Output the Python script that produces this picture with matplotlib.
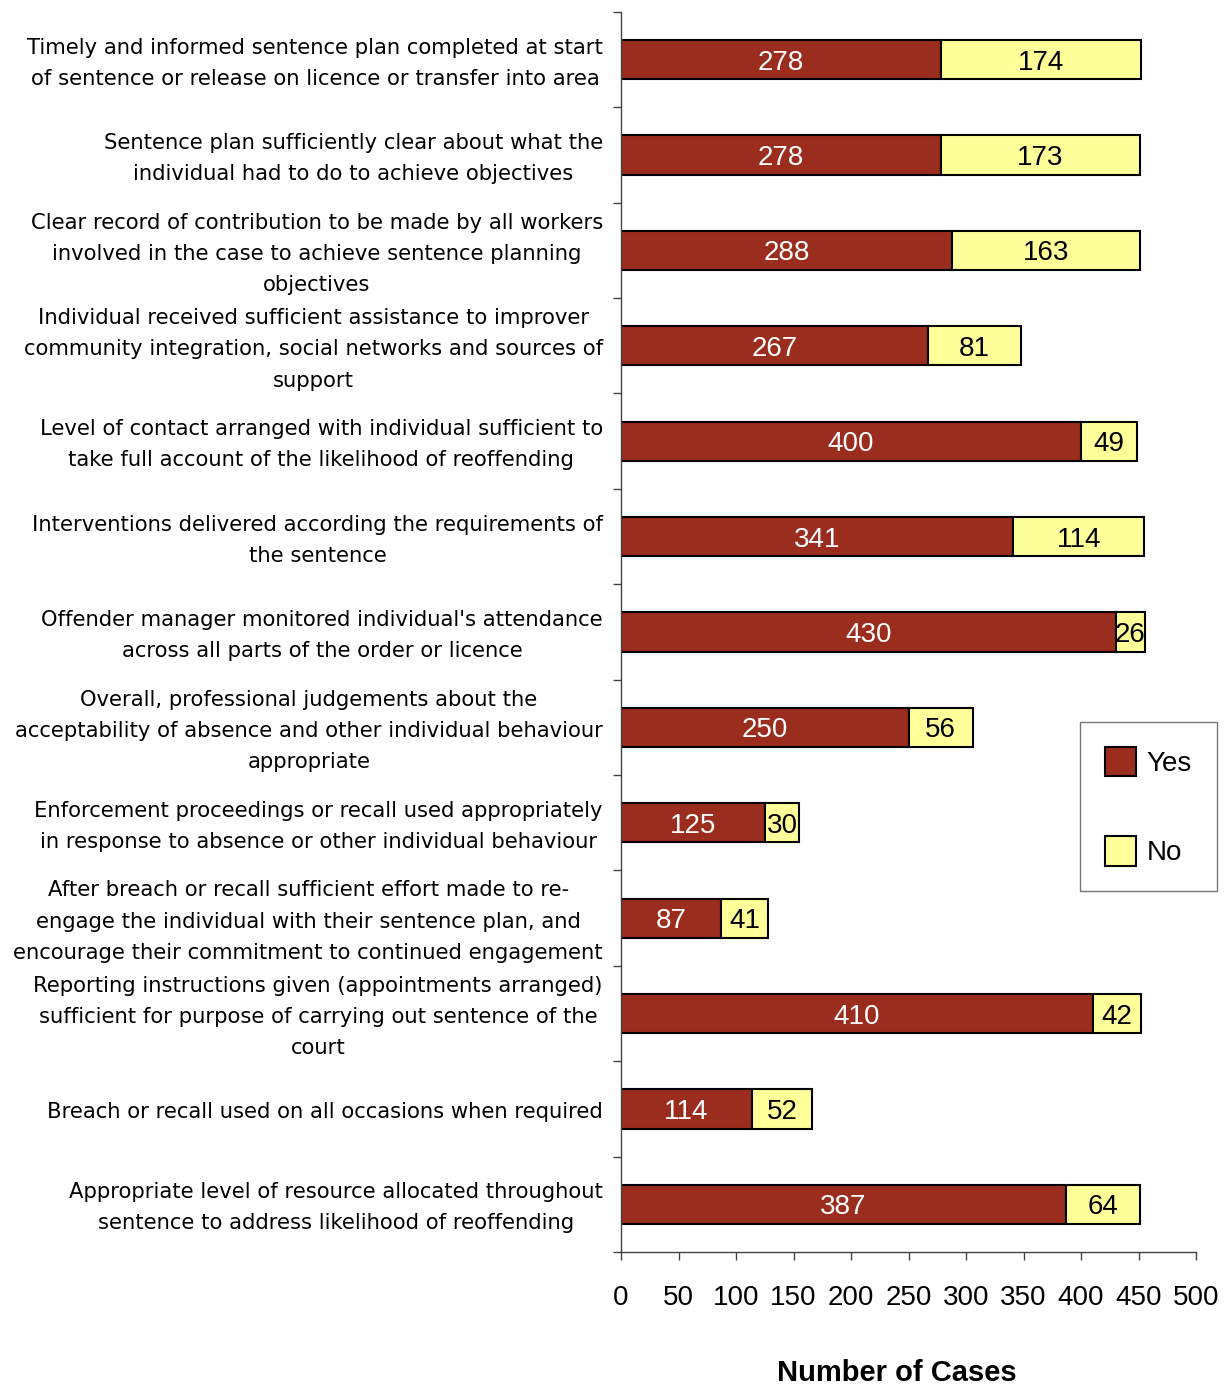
import matplotlib.pyplot as plt
import numpy as np

categories = [
    "Timely and informed sentence plan completed at start\nof sentence or release on licence or transfer into area",
    "Sentence plan sufficiently clear about what the\nindividual had to do to achieve objectives",
    "Clear record of contribution to be made by all workers\ninvolved in the case to achieve sentence planning\nobjectives",
    "Individual received sufficient assistance to improver\ncommunity integration, social networks and sources of\nsupport",
    "Level of contact arranged with individual sufficient to\ntake full account of the likelihood of reoffending",
    "Interventions delivered according the requirements of\nthe sentence",
    "Offender manager monitored individual's attendance\nacross all parts of the order or licence",
    "Overall, professional judgements about the\nacceptability of absence and other individual behaviour\nappropriate",
    "Enforcement proceedings or recall used appropriately\nin response to absence or other individual behaviour",
    "After breach or recall sufficient effort made to re-\nengage the individual with their sentence plan, and\nencourage their commitment to continued engagement",
    "Reporting instructions given (appointments arranged)\nsufficient for purpose of carrying out sentence of the\ncourt",
    "Breach or recall used on all occasions when required",
    "Appropriate level of resource allocated throughout\nsentence to address likelihood of reoffending",
]
yes = [278, 278, 288, 267, 400, 341, 430, 250, 125, 87, 410, 114, 387]
no = [174, 173, 163, 81, 49, 114, 26, 56, 30, 41, 42, 52, 64]
x_ticks = [0, 50, 100, 150, 200, 250, 300, 350, 400, 450, 500]

YES_COLOR = "#9b2d1f"
NO_COLOR = "#ffff99"

fig = plt.figure(figsize=(12.3, 13.85), dpi=100)
ax = fig.add_axes([0.5049, 0.096, 0.4675, 0.8954])

y = np.arange(len(categories))
h = 0.41
bars_yes = ax.barh(y, yes, height=h, color=YES_COLOR, edgecolor="black", linewidth=1.5, label="Yes")
bars_no = ax.barh(y, no, left=yes, height=h, color=NO_COLOR, edgecolor="black", linewidth=1.5, label="No")

for rect, v in zip(bars_yes, yes):
    ax.text(rect.get_x() + rect.get_width() / 2, rect.get_y() + rect.get_height() / 2, str(v),
            ha="center", va="center_baseline", color="white", fontsize=20, family="Liberation Sans")
for rect, v in zip(bars_no, no):
    ax.text(rect.get_x() + rect.get_width() / 2, rect.get_y() + rect.get_height() / 2, str(v),
            ha="center", va="center_baseline", color="black", fontsize=20, family="Liberation Sans")

ax.set_xlim(0, 500)
ax.set_ylim(len(categories) - 0.5, -0.5)

# category labels (invisible major ticks, nudged a touch below bar centre)
ax.set_yticks(y + 0.037)
ax.set_yticklabels(categories, fontsize=15.2, family="DejaVu Sans", va="center")
for lbl in ax.get_yticklabels():
    lbl.set_multialignment("center")
    lbl.set_linespacing(1.7)
ax.tick_params(axis="y", which="major", length=0, pad=13)
# visible ticks on the boundaries between categories
ax.set_yticks(np.arange(-0.5, len(categories)), minor=True)
ax.tick_params(axis="y", which="minor", length=6, width=1, color="#444444")

ax.set_xticks(x_ticks)
ax.set_xticklabels([str(t) for t in x_ticks], fontsize=20, family="Liberation Sans")
ax.tick_params(axis="x", length=6, width=1, color="#444444", pad=18)

for side in ["top", "right"]:
    ax.spines[side].set_visible(False)
for side in ["left", "bottom"]:
    ax.spines[side].set_color("#444444")
    ax.spines[side].set_linewidth(1)

ax.set_xlabel("Number of Cases", fontsize=21, fontweight="bold", family="Liberation Sans")
ax.xaxis.label.set_va("center")
ax.xaxis.set_label_coords(0.48, -0.0976)

leg = ax.legend(loc="center", bbox_to_anchor=(0.9337, 0.4177), bbox_transform=fig.transFigure,
                frameon=True, fancybox=False, edgecolor="#555555",
                handlelength=1.1, handleheight=1.25, labelspacing=2.15, borderpad=0.9,
                handletextpad=0.4, prop={"family": "Liberation Sans", "size": 20})
leg.get_frame().set_linewidth(1)

fig.savefig("out.png", dpi=100)
